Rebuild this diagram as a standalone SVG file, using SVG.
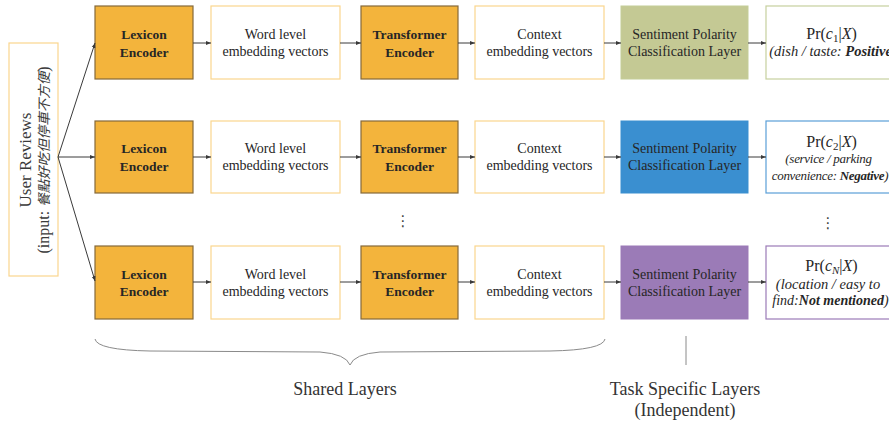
<svg xmlns="http://www.w3.org/2000/svg" width="889" height="423" viewBox="0 0 889 423">
<defs>
<marker id="ah" viewBox="0 0 10 10" refX="10" refY="5" markerWidth="5" markerHeight="5" orient="auto" markerUnits="userSpaceOnUse">
<path d="M0,1 L10,5 L0,9 z" fill="#3a3a3a"/>
</marker>
<style>
.enc{fill:#f3b43c;stroke:#85693a;stroke-width:1.2}
.vec{fill:#fff;stroke:#fbd68e;stroke-width:1.2}
.t{font-family:"Liberation Serif","Times New Roman",serif;fill:#262626;text-anchor:middle}
.b{font-weight:bold;font-size:13.5px}
.n{font-size:14px}
.m{font-size:16px}
.it{font-size:13px;font-style:italic;letter-spacing:-0.3px}
.con{stroke:#3a3a3a;stroke-width:1;fill:none;marker-end:url(#ah)}
.big{font-size:18px;fill:#333}
</style>
</defs>
<rect width="889" height="423" fill="#fff"/>

<g id="user-reviews">
<rect x="9" y="43" width="49" height="233" fill="#fff" stroke="#fbd68e" stroke-width="1.2"/>
<text class="t" transform="translate(31,160) rotate(-90)" style="font-size:17px;fill:#3a3a3a">User Reviews</text>
<text class="t" transform="translate(49,160) rotate(-90)" style="font-size:16px;fill:#3a3a3a">(input: <tspan style="font-family:'Noto Sans CJK TC','Noto Sans CJK SC',sans-serif;font-size:13.5px;font-style:italic">餐點好吃但停車不方便</tspan>)</text>
</g>

<!-- Row 1 -->
<g id="lexicon1"><rect class="enc" x="95" y="6" width="98" height="73"/><text class="t b" x="144" y="39">Lexicon</text><text class="t b" x="144" y="56.5">Encoder</text></g>
<g id="word1"><rect class="vec" x="211" y="6" width="129" height="73"/><text class="t n" x="275.5" y="39">Word level</text><text class="t n" x="275.5" y="56">embedding vectors</text></g>
<g id="transformer1"><rect class="enc" x="361" y="6" width="97" height="73"/><text class="t b" x="409.5" y="39">Transformer</text><text class="t b" x="409.5" y="56.5">Encoder</text></g>
<g id="context1"><rect class="vec" x="475" y="6" width="129" height="73"/><text class="t n" x="539.5" y="39">Context</text><text class="t n" x="539.5" y="56">embedding vectors</text></g>
<g id="sentiment1"><rect x="621" y="6" width="127" height="73" fill="#c4c994" stroke="#c4cd98"/><text class="t n" x="684.5" y="39">Sentiment Polarity</text><text class="t n" x="684.5" y="56">Classification Layer</text></g>
<g id="output1"><rect x="766" y="6" width="127" height="73" fill="#fff" stroke="#c6d09e" stroke-width="1.2"/>
<text class="t m" x="831.5" y="39">Pr(<tspan font-style="italic">c</tspan><tspan font-size="11" dy="3">1</tspan><tspan dy="-3">|</tspan><tspan font-style="italic">X</tspan>)</text>
<text class="t it" x="833" y="56" style="font-size:14.5px;letter-spacing:0">(dish / taste: <tspan font-weight="bold">Positive</tspan>)</text></g>

<!-- Row 2 -->
<g id="lexicon2"><rect class="enc" x="95" y="121" width="98" height="72"/><text class="t b" x="144" y="153">Lexicon</text><text class="t b" x="144" y="170.5">Encoder</text></g>
<g id="word2"><rect class="vec" x="211" y="121" width="129" height="72"/><text class="t n" x="275.5" y="153">Word level</text><text class="t n" x="275.5" y="170">embedding vectors</text></g>
<g id="transformer2"><rect class="enc" x="361" y="121" width="97" height="72"/><text class="t b" x="409.5" y="153">Transformer</text><text class="t b" x="409.5" y="170.5">Encoder</text></g>
<g id="context2"><rect class="vec" x="475" y="121" width="129" height="72"/><text class="t n" x="539.5" y="153">Context</text><text class="t n" x="539.5" y="170">embedding vectors</text></g>
<g id="sentiment2"><rect x="621" y="121" width="127" height="72" fill="#3a8fd0" stroke="#3a8fd0"/><text class="t n" x="684.5" y="153">Sentiment Polarity</text><text class="t n" x="684.5" y="170">Classification Layer</text></g>
<g id="output2"><rect x="766" y="121" width="127" height="72" fill="#fff" stroke="#5a9fd8" stroke-width="1.2"/>
<text class="t m" x="831.5" y="147">Pr(<tspan font-style="italic">c</tspan><tspan font-size="11" dy="3">2</tspan><tspan dy="-3">|</tspan><tspan font-style="italic">X</tspan>)</text>
<text class="t it" x="828.5" y="163">(service / parking</text>
<text class="t it" x="830" y="180">convenience: <tspan font-weight="bold">Negative</tspan>)</text></g>

<!-- Row 3 -->
<g id="lexicon3"><rect class="enc" x="95" y="246" width="98" height="73"/><text class="t b" x="144" y="278.5">Lexicon</text><text class="t b" x="144" y="296">Encoder</text></g>
<g id="word3"><rect class="vec" x="211" y="246" width="129" height="73"/><text class="t n" x="275.5" y="278.5">Word level</text><text class="t n" x="275.5" y="295.5">embedding vectors</text></g>
<g id="transformer3"><rect class="enc" x="361" y="246" width="97" height="73"/><text class="t b" x="409.5" y="278.5">Transformer</text><text class="t b" x="409.5" y="296">Encoder</text></g>
<g id="context3"><rect class="vec" x="475" y="246" width="129" height="73"/><text class="t n" x="539.5" y="278.5">Context</text><text class="t n" x="539.5" y="295.5">embedding vectors</text></g>
<g id="sentiment3"><rect x="621" y="246" width="127" height="73" fill="#9b7bb7" stroke="#9b7bb7"/><text class="t n" x="684.5" y="278.5">Sentiment Polarity</text><text class="t n" x="684.5" y="295.5">Classification Layer</text></g>
<g id="output3"><rect x="766" y="246" width="127" height="73" fill="#fff" stroke="#9b7bb7" stroke-width="1.2"/>
<text class="t m" x="831.5" y="271">Pr(<tspan font-style="italic">c</tspan><tspan font-size="11" font-style="italic" dy="3">N</tspan><tspan dy="-3">|</tspan><tspan font-style="italic">X</tspan>)</text>
<text class="t it" x="828" y="288.5" style="font-size:14.5px;letter-spacing:0">(location / easy to</text>
<text class="t it" x="830.5" y="304.5" style="font-size:14px;letter-spacing:0">find:<tspan font-weight="bold">Not mentioned</tspan>)</text></g>

<g id="connectors">
<line class="con" x1="58" y1="157" x2="95" y2="43"/>
<line class="con" x1="58" y1="157" x2="95" y2="157"/>
<line class="con" x1="58" y1="157" x2="95" y2="281"/>
<line class="con" x1="193" y1="43" x2="211" y2="43"/>
<line class="con" x1="340" y1="43" x2="361" y2="43"/>
<line class="con" x1="458" y1="43" x2="475" y2="43"/>
<line class="con" x1="604" y1="43" x2="621" y2="43"/>
<line class="con" x1="748" y1="43" x2="766" y2="43"/>
<line class="con" x1="193" y1="157" x2="211" y2="157"/>
<line class="con" x1="340" y1="157" x2="361" y2="157"/>
<line class="con" x1="458" y1="157" x2="475" y2="157"/>
<line class="con" x1="604" y1="157" x2="621" y2="157"/>
<line class="con" x1="748" y1="157" x2="766" y2="157"/>
<line class="con" x1="193" y1="282" x2="211" y2="282"/>
<line class="con" x1="340" y1="282" x2="361" y2="282"/>
<line class="con" x1="458" y1="282" x2="475" y2="282"/>
<line class="con" x1="604" y1="282" x2="621" y2="282"/>
<line class="con" x1="748" y1="282" x2="766" y2="282"/>
</g>

<g id="dots">
<text x="403" y="226" style="font-family:'DejaVu Sans',sans-serif;font-size:15px;fill:#444;text-anchor:middle">⋮</text>
<text x="828" y="228" style="font-family:'DejaVu Sans',sans-serif;font-size:15px;fill:#444;text-anchor:middle">⋮</text>
</g>

<g id="shared-layers">
<path d="M95,339 Q97,350 150,351 L320,352 Q346,354 350,365 Q354,354 380,352 L550,351 Q603,350 605,339" fill="none" stroke="#8a8a8a" stroke-width="1"/>
<text class="t big" x="345" y="395">Shared Layers</text>
</g>

<g id="task-specific">
<line x1="686" y1="336" x2="686" y2="365" stroke="#8a8a8a" stroke-width="1"/>
<text class="t big" x="685" y="395">Task Specific Layers</text>
<text class="t big" x="685" y="416">(Independent)</text>
</g>
</svg>
